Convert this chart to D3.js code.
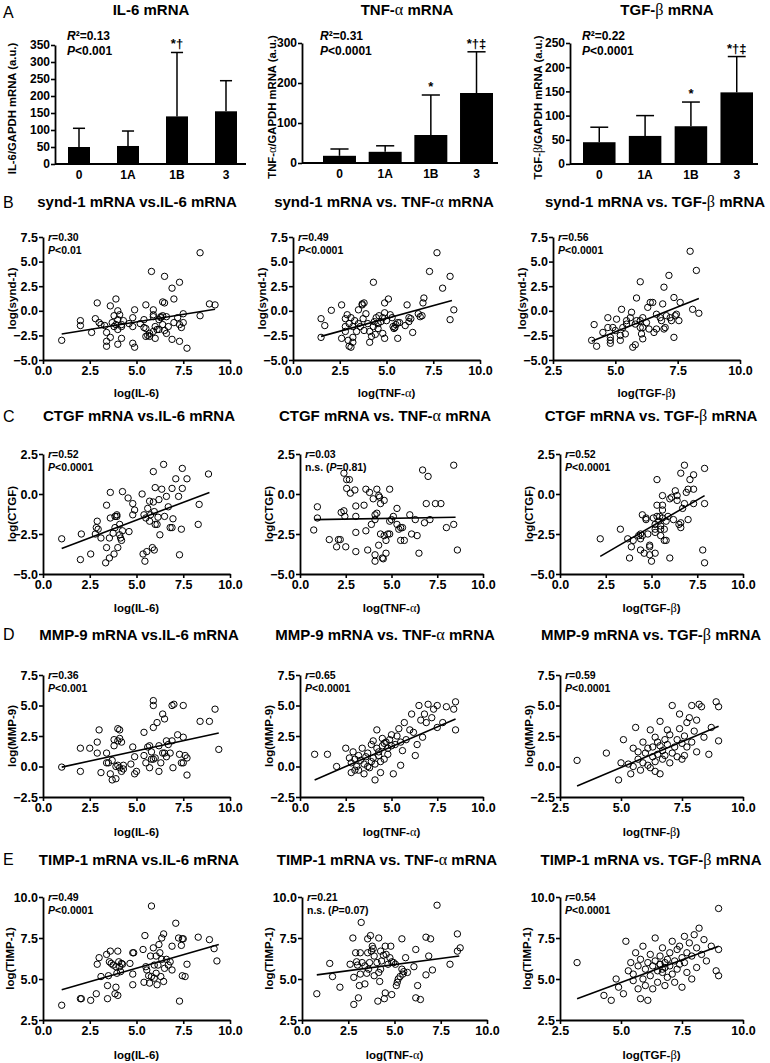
<!DOCTYPE html>
<html><head><meta charset="utf-8">
<script src="https://cdn.jsdelivr.net/npm/d3@7"></script>
<style>body{margin:0;background:#fff}</style>
</head><body>
<svg id="c" width="770" height="1063"></svg>
<script>
// ---------- DATA ----------
const groups = ["0", "1A", "1B", "3"];
const il6Mean = [50, 53, 140, 155];
const il6Err = [105, 97, 328, 245];
const il6Ann = ["", "", "*†", ""];
const tnfMean = [18, 28, 70, 175];
const tnfErr = [35, 43, 170, 278];
const tnfAnn = ["", "", "*", "*†‡"];
const tgfMean = [45, 58, 78, 148];
const tgfErr = [76, 100, 128, 222];
const tgfAnn = ["", "", "*", "*†‡"];
const barR2 = ["0.13", "0.31", "0.22"];
const barP = ["<0.001", "<0.0001", "<0.0001"];
const il6Ticks = [0, 50, 100, 150, 200, 250, 300, 350];
const tnfTicks = [0, 100, 200, 300];
const tgfTicks = [0, 50, 100, 150, 200, 250];

const xTicks0 = [0, 2.5, 5, 7.5, 10];
const xTicks25 = [2.5, 5, 7.5, 10];
const yTicksB = [-5, -2.5, 0, 2.5, 5, 7.5];
const yTicksC = [-5, -2.5, 0, 2.5];
const yTicksD = [-2.5, 0, 2.5, 5, 7.5];
const yTicksE = [2.5, 5, 7.5, 10];

const rVals = [["0.30","0.49","0.56"],["0.52","0.03","0.52"],["0.36","0.65","0.59"],["0.49","0.21","0.54"]];
const pVals = [["<0.01","<0.0001","<0.0001"],["<0.0001","=0.81","<0.0001"],["<0.001","<0.0001","<0.0001"],["<0.0001","=0.07","<0.0001"]];

const synd1_IL6 = [[1.0,-3.0],[2.0,-1.0],[2.0,-1.5],[2.6,-2.2],[2.9,0.8],[2.8,-0.8],[3.0,-1.2],[3.1,-1.4],[3.3,-1.5],[3.4,-2.2],[3.4,-3.1],[3.4,-3.6],[3.6,0.5],[3.6,-2.7],[3.7,-1.2],[3.8,-0.5],[3.9,1.2],[3.9,-1.4],[3.8,-1.6],[4.0,-0.9],[4.0,-3.4],[4.0,-1.9],[4.0,0.0],[4.1,-0.4],[4.2,-1.4],[4.2,-2.8],[4.2,-1.6],[4.3,-1.0],[4.6,-1.3],[4.8,-1.6],[4.8,-0.7],[4.9,0.1],[4.8,-3.3],[4.9,-3.7],[5.2,-1.3],[5.4,-0.9],[5.4,-1.7],[5.5,0.6],[5.5,-2.6],[5.6,-2.5],[5.7,-2.3],[5.8,4.0],[5.9,0.1],[5.9,-0.4],[5.9,-0.6],[5.9,-2.1],[6.0,-1.6],[6.0,-2.8],[6.1,-1.9],[6.2,-0.9],[6.2,-1.9],[6.3,-0.7],[6.3,-0.6],[6.4,-1.4],[6.4,-0.5],[6.5,3.5],[6.4,0.9],[6.5,0.8],[6.5,-2.0],[6.6,-2.3],[6.7,-1.6],[6.6,-0.6],[6.9,2.3],[6.9,-2.9],[7.0,1.2],[7.0,-1.2],[7.2,-0.7],[7.3,2.9],[7.3,-1.4],[7.3,-3.1],[7.5,-0.3],[7.5,-1.2],[7.4,-1.7],[7.7,-3.8],[8.4,-0.5],[8.4,5.9],[8.9,0.7],[9.2,0.6],[5.7,-2.6],[5.5,-1.8]];
const synd1_TNF = [[1.5,-0.8],[1.5,-2.7],[1.7,-1.5],[2.05,0.05],[2.6,0.6],[2.6,-2.8],[2.8,-1.6],[2.8,-0.8],[2.8,-2.1],[2.9,-0.4],[2.95,-3.0],[3.0,-3.6],[3.1,-3.7],[3.0,-1.3],[3.1,-0.7],[3.2,-2.7],[3.2,-3.2],[3.2,-1.6],[3.3,-1.0],[3.4,-2.1],[3.5,-1.3],[3.6,-1.6],[3.5,0.1],[3.7,0.7],[3.7,0.6],[3.8,0.8],[3.75,-0.8],[3.8,-2.0],[3.9,-0.3],[4.0,-1.3],[4.1,-2.1],[4.1,-3.2],[4.2,-2.6],[4.3,-1.6],[4.3,2.9],[4.35,-1.1],[4.4,-2.4],[4.45,-0.7],[4.55,-1.3],[4.55,-1.8],[4.6,-0.5],[4.7,-1.1],[4.8,-2.3],[4.8,-0.7],[4.9,0.8],[4.9,-0.2],[4.9,-2.8],[5.0,-1.0],[5.1,1.2],[5.2,-0.4],[5.3,-0.7],[5.35,-1.6],[5.4,-1.8],[5.45,-1.7],[5.5,-1.4],[5.6,-1.2],[5.6,-2.8],[5.7,-1.2],[6.0,-1.5],[6.1,0.6],[6.2,-1.1],[6.2,-0.7],[6.3,-0.8],[6.4,-2.2],[6.7,-0.3],[6.8,-0.6],[6.9,-0.5],[6.95,0.8],[7.0,1.3],[7.3,4.0],[7.7,5.9],[8.0,2.3],[8.4,3.5],[8.4,-0.9],[8.6,0.1]];
const synd1_TGF = [[4.05,-3.0],[4.15,-1.4],[4.25,-3.6],[4.5,-2.2],[4.7,-0.7],[4.7,-1.7],[4.8,-2.7],[4.8,-3.0],[4.8,-3.3],[4.9,-1.7],[5.0,-2.0],[5.05,-0.85],[5.25,0.15],[5.2,-2.5],[5.2,-3.0],[5.3,-1.7],[5.4,-2.35],[5.45,-1.35],[5.45,-1.0],[5.6,-0.7],[5.65,-0.15],[5.7,-3.7],[5.8,-3.45],[5.8,-1.35],[5.85,-1.0],[5.85,1.3],[6.0,2.95],[6.0,-1.7],[6.0,-1.0],[6.05,-2.35],[6.1,-2.85],[6.1,-0.7],[6.1,-1.7],[6.25,-1.2],[6.3,0.35],[6.35,-1.85],[6.4,0.85],[6.5,0.85],[6.55,-2.2],[6.65,-0.35],[6.65,-1.85],[6.8,-0.7],[6.85,-1.0],[6.9,0.7],[6.95,2.4],[6.95,-1.85],[7.0,-1.7],[7.05,-0.5],[7.15,3.6],[7.2,-0.7],[7.25,-1.0],[7.35,-2.7],[7.35,1.35],[7.4,-0.5],[7.45,-0.35],[7.55,-1.0],[7.6,0.85],[8.0,6.05],[8.1,0.15],[8.25,4.1],[8.35,-0.25]];

const ctgf_IL6 = [[1.0,-2.8],[2.05,-2.5],[2.0,-4.1],[2.55,-3.75],[2.8,-2.5],[2.85,-2.1],[2.9,-1.7],[2.95,-2.2],[3.1,-2.75],[3.35,-4.3],[3.4,-3.35],[3.4,-0.7],[3.55,-4.0],[3.55,-2.75],[3.6,0.1],[3.6,-1.5],[3.75,-2.45],[3.8,-3.75],[3.85,-1.4],[3.85,-2.1],[3.95,-1.3],[3.95,-1.4],[4.0,-3.35],[4.1,-2.55],[4.1,-1.9],[4.15,-2.75],[4.2,-2.9],[4.25,-2.3],[4.25,0.15],[4.55,-0.25],[4.6,-2.35],[4.8,-0.6],[4.8,-1.3],[4.9,-1.0],[5.3,0.0],[5.35,-3.75],[5.4,-1.3],[5.45,-4.2],[5.55,-3.6],[5.5,-1.5],[5.6,-0.9],[5.7,-0.45],[5.75,-1.3],[5.7,-1.7],[5.85,-3.35],[5.9,-0.5],[5.95,-1.1],[6.0,-1.9],[5.9,1.4],[5.95,-3.5],[6.0,0.4],[6.1,-1.9],[6.15,-1.45],[6.25,-2.55],[6.2,-0.35],[6.35,0.3],[6.45,1.85],[6.5,-1.4],[6.6,-0.15],[6.7,-0.8],[6.8,-2.1],[6.9,0.35],[6.9,-2.1],[6.95,-1.55],[7.1,0.95],[7.25,-0.15],[7.3,-3.8],[7.4,-2.2],[7.45,0.35],[7.45,1.6],[7.7,0.95],[8.3,-1.9],[8.35,-0.65],[8.85,1.25]];
const ctgf_TNF = [[0.75,-2.25],[0.95,-0.8],[0.95,-1.5],[1.6,-2.85],[2.0,-3.3],[2.1,-2.85],[2.2,-2.85],[2.25,-1.15],[2.4,-1.05],[2.4,1.3],[2.45,-1.4],[2.5,-3.3],[2.55,0.9],[2.7,0.9],[2.55,0.35],[2.75,0.05],[3.0,0.25],[3.05,-0.75],[3.05,-1.4],[3.05,-2.4],[3.05,-3.6],[3.5,-0.7],[3.6,0.3],[3.6,-2.3],[3.7,-3.5],[3.8,0.1],[3.9,-1.9],[4.0,-0.3],[4.1,-1.3],[4.1,-1.6],[4.1,-3.8],[4.1,-4.2],[4.2,0.3],[4.2,-1.2],[4.3,-0.1],[4.3,-3.2],[4.35,-0.2],[4.4,-0.6],[4.4,-2.5],[4.5,-4.0],[4.55,-4.05],[4.6,-0.4],[4.6,-2.6],[4.7,-2.9],[4.7,-3.7],[4.8,-2.5],[4.9,0.3],[4.9,-1.7],[4.9,-2.5],[5.0,-1.6],[5.1,-1.4],[5.3,-1.9],[5.3,-0.9],[5.4,-2.2],[5.5,-2.1],[5.5,-2.9],[5.6,-2.1],[5.7,-2.9],[6.0,-1.3],[6.1,-2.5],[6.3,-1.6],[6.4,-2.6],[6.5,-3.7],[6.7,1.5],[6.8,-1.8],[6.9,-0.6],[7.0,1.1],[7.1,-1.6],[7.4,-0.6],[7.7,-0.6],[8.0,-2.1],[8.4,1.8],[8.4,-1.9],[8.6,-3.5]];
const ctgf_TGF = [[2.2,-2.8],[3.3,-2.2],[3.7,-2.8],[3.8,-4.0],[3.9,-3.3],[4.0,-2.9],[4.3,-2.6],[4.4,-2.5],[4.4,-2.8],[4.4,-3.5],[4.5,-1.3],[4.6,-3.7],[4.7,-1.5],[4.7,-1.6],[4.8,-2.5],[4.9,-3.2],[4.9,-3.3],[4.9,-3.8],[5.0,-4.2],[5.1,-1.5],[5.2,-1.9],[5.2,-2.2],[5.2,-2.4],[5.2,-3.7],[5.3,0.9],[5.3,-0.7],[5.3,-1.4],[5.4,-1.7],[5.45,-1.4],[5.5,-2.0],[5.5,-2.2],[5.5,-2.6],[5.6,-0.1],[5.6,-0.7],[5.6,-1.0],[5.6,-1.5],[5.7,-2.2],[5.7,-2.9],[5.8,-1.7],[5.9,-1.4],[6.0,-0.3],[6.0,-4.0],[6.1,-0.2],[6.2,-1.6],[6.3,0.2],[6.4,-0.1],[6.4,-0.4],[6.5,-1.9],[6.6,-1.8],[6.6,-2.1],[6.6,1.3],[6.7,-0.9],[6.8,-0.6],[6.8,1.8],[6.9,0.1],[7.0,0.3],[7.0,-1.6],[7.1,0.9],[7.3,1.2],[7.3,0.3],[7.3,-0.6],[7.8,-3.5],[7.9,-4.3],[7.9,-0.6],[7.9,1.6],[4.5,-2.6],[5.8,-2.9]];

const mmp9_IL6 = [[1.0,-0.05],[2.0,1.5],[2.0,-0.4],[2.5,1.5],[2.9,2.0],[2.9,1.1],[3.0,3.0],[3.1,-0.5],[3.4,1.1],[3.4,0.3],[3.5,0.3],[3.6,-0.6],[3.7,0.5],[3.7,-1.1],[3.8,2.2],[3.8,1.7],[3.9,0.0],[3.9,-1.0],[4.0,3.1],[4.0,2.1],[4.0,0.1],[4.1,-0.1],[4.1,2.3],[4.1,3.0],[4.2,-0.4],[4.2,2.0],[4.3,0.1],[4.3,-0.2],[4.7,0.2],[4.8,1.6],[4.9,0.8],[4.9,-0.6],[5.0,-0.4],[5.4,2.8],[5.4,0.9],[5.5,0.3],[5.6,1.6],[5.7,1.7],[5.7,-0.1],[5.8,1.2],[5.8,0.6],[5.9,5.4],[5.9,5.0],[5.9,3.2],[5.9,0.6],[6.0,0.7],[6.1,3.6],[6.2,-0.4],[6.2,1.7],[6.3,0.3],[6.4,1.1],[6.4,4.3],[6.5,3.9],[6.5,1.1],[6.6,0.8],[6.6,2.1],[6.7,1.8],[6.8,1.1],[6.9,5.0],[6.9,2.1],[6.95,-0.1],[7.0,5.1],[7.2,2.6],[7.3,1.0],[7.4,0.3],[7.5,0.3],[7.5,2.4],[7.5,5.0],[7.6,0.9],[7.7,0.7],[7.7,-0.7],[8.4,3.7],[8.9,3.7],[9.2,4.7],[9.4,1.4]];
const mmp9_TNF = [[0.8,1.0],[1.5,1.0],[2.0,0.0],[2.5,1.5],[2.7,0.7],[2.8,0.3],[2.8,-0.5],[2.9,1.2],[3.0,0.6],[3.0,-0.3],[3.1,0.0],[3.2,0.9],[3.3,0.5],[3.4,1.5],[3.5,0.2],[3.5,-0.6],[3.6,0.8],[3.7,1.1],[3.7,0.0],[3.8,-0.1],[3.9,1.8],[3.9,0.4],[4.0,2.1],[4.0,0.7],[4.1,-1.1],[4.1,0.2],[4.2,1.5],[4.2,3.0],[4.3,0.9],[4.3,1.2],[4.4,-0.5],[4.5,1.7],[4.5,2.3],[4.6,1.9],[4.6,0.6],[4.7,2.0],[4.8,1.0],[4.8,1.5],[4.9,2.2],[5.0,1.7],[5.0,2.6],[5.1,-0.6],[5.2,1.8],[5.3,2.5],[5.4,3.1],[5.5,0.1],[5.5,2.0],[5.6,1.3],[5.7,3.6],[5.8,2.2],[6.0,3.0],[6.1,4.3],[6.2,2.8],[6.3,0.9],[6.4,1.8],[6.5,5.0],[6.6,3.8],[6.7,2.4],[6.8,4.3],[6.9,3.6],[7.0,5.1],[7.2,4.0],[7.3,4.7],[7.5,5.0],[7.5,3.2],[7.8,3.6],[8.0,4.9],[8.4,4.7],[8.5,5.3],[8.5,3.0],[4.4,0.4],[3.2,-0.3]];
const mmp9_TGF = [[3.2,0.5],[4.4,1.1],[4.9,-1.1],[5.0,0.3],[5.1,2.2],[5.3,0.2],[5.4,-0.6],[5.5,1.5],[5.5,0.0],[5.6,3.2],[5.7,0.6],[5.7,1.2],[5.8,-0.3],[5.9,2.0],[5.9,0.3],[6.0,1.1],[6.1,0.1],[6.1,1.5],[6.2,3.0],[6.2,-0.1],[6.3,0.8],[6.3,1.6],[6.4,2.4],[6.4,0.4],[6.5,1.0],[6.5,2.0],[6.6,-0.6],[6.6,1.7],[6.6,3.7],[6.7,1.3],[6.7,0.6],[6.8,2.2],[6.8,0.9],[6.9,1.8],[6.9,3.0],[7.0,2.6],[7.0,0.3],[7.1,1.1],[7.1,5.0],[7.2,1.6],[7.3,2.2],[7.3,0.8],[7.4,3.1],[7.4,4.3],[7.5,1.9],[7.6,2.5],[7.6,0.9],[7.7,3.6],[7.7,1.6],[7.8,4.0],[7.9,5.0],[7.9,2.0],[8.0,2.9],[8.1,3.8],[8.1,1.2],[8.2,5.1],[8.3,4.9],[8.4,2.4],[8.6,1.0],[8.7,3.2],[8.9,5.3],[9.0,4.9],[9.0,2.1],[7.5,0.6],[6.4,-0.4]];

const timp1_IL6 = [[1.0,3.4],[2.0,3.8],[2.05,3.8],[2.55,3.7],[2.85,4.1],[2.9,5.9],[3.0,6.3],[3.1,5.15],[3.4,6.5],[3.45,4.6],[3.45,3.8],[3.5,5.2],[3.55,6.05],[3.6,6.7],[3.65,5.95],[3.75,5.85],[3.85,4.1],[3.9,4.5],[3.9,5.75],[3.95,5.35],[4.0,4.0],[4.0,6.7],[4.05,6.05],[4.1,5.75],[4.15,5.45],[4.2,5.95],[4.25,5.9],[4.65,5.95],[4.8,6.6],[4.85,6.6],[4.8,5.3],[4.8,4.65],[5.35,6.8],[5.4,4.8],[5.45,7.65],[5.5,5.75],[5.55,5.55],[5.65,5.2],[5.7,4.75],[5.75,6.4],[5.8,9.45],[5.8,5.15],[5.9,6.9],[5.95,5.85],[5.95,5.05],[6.05,6.4],[6.05,5.35],[6.1,4.65],[6.15,5.85],[6.2,7.1],[6.25,6.6],[6.3,5.15],[6.35,7.5],[6.35,6.2],[6.45,7.75],[6.45,4.85],[6.5,5.65],[6.6,6.2],[6.7,5.85],[6.8,6.05],[6.9,5.55],[6.9,7.0],[7.1,8.4],[7.25,7.5],[7.3,3.65],[7.4,7.05],[7.45,7.45],[7.5,7.45],[7.45,5.2],[7.6,5.15],[7.7,5.9],[8.3,7.55],[8.9,7.4],[9.15,6.85],[9.3,6.1]];
const timp1_TNF = [[0.8,4.1],[1.5,5.95],[1.65,5.15],[2.05,4.5],[2.6,5.9],[2.75,7.5],[2.8,5.1],[2.8,3.45],[2.9,6.6],[2.95,6.05],[3.0,5.85],[3.05,3.85],[3.1,4.6],[3.15,5.3],[3.15,6.6],[3.2,8.45],[3.25,6.0],[3.4,5.8],[3.4,4.7],[3.5,5.35],[3.55,6.6],[3.55,7.45],[3.6,5.6],[3.65,6.0],[3.7,7.65],[3.75,6.7],[3.8,7.0],[3.85,6.85],[3.9,5.2],[3.9,6.4],[4.05,6.0],[4.1,3.65],[4.15,7.5],[4.15,5.4],[4.2,4.85],[4.25,5.6],[4.25,6.7],[4.3,6.1],[4.4,6.45],[4.45,3.8],[4.5,4.15],[4.5,7.0],[4.55,6.5],[4.65,5.9],[4.75,6.3],[4.8,7.0],[4.85,6.05],[4.85,4.05],[4.95,6.0],[5.05,5.9],[5.1,4.6],[5.15,4.8],[5.2,5.0],[5.3,5.15],[5.4,7.45],[5.4,5.6],[5.45,5.3],[5.5,5.45],[5.6,6.3],[5.7,5.4],[6.05,5.75],[6.15,6.8],[6.15,3.85],[6.25,4.6],[6.4,3.75],[6.7,5.25],[6.7,7.55],[6.95,7.45],[6.85,6.4],[7.05,5.55],[7.3,9.5],[8.0,5.9],[8.4,7.75],[8.4,6.7],[8.55,6.9]];
const timp1_TGF = [[3.2,6.0],[4.3,4.0],[4.6,3.7],[4.8,5.0],[4.9,4.5],[5.1,4.1],[5.2,7.3],[5.3,5.5],[5.4,6.0],[5.5,4.9],[5.5,5.3],[5.6,6.6],[5.7,4.4],[5.7,5.8],[5.8,3.8],[5.8,6.2],[5.9,5.0],[5.9,7.0],[6.0,4.6],[6.0,5.6],[6.1,6.0],[6.1,3.7],[6.2,5.2],[6.2,6.5],[6.3,4.4],[6.3,5.8],[6.4,7.5],[6.4,6.1],[6.5,5.5],[6.5,4.8],[6.6,5.9],[6.6,6.4],[6.7,5.4],[6.7,6.9],[6.8,5.7],[6.8,4.6],[6.9,6.2],[6.9,5.1],[7.0,6.6],[7.0,5.8],[7.1,7.3],[7.1,5.3],[7.2,6.1],[7.2,4.8],[7.3,6.8],[7.3,5.6],[7.4,7.0],[7.4,5.9],[7.5,6.3],[7.5,4.5],[7.6,7.6],[7.6,6.0],[7.7,6.6],[7.7,5.4],[7.8,7.2],[7.9,6.4],[7.9,5.0],[8.0,7.7],[8.1,6.9],[8.1,5.7],[8.2,8.1],[8.3,6.5],[8.4,7.4],[8.5,6.1],[8.7,7.0],[8.9,5.5],[9.0,9.3],[9.0,5.2],[9.0,6.8],[6.6,5.9],[6.7,5.6],[6.8,6.0]];

// regression line end points [x0, y0, x1, y1]
const fitLines = [
  [[1.0,-2.35,9.2,0.15],[1.5,-2.6,8.5,1.05],[4.05,-3.1,8.35,1.25]],
  [[1.0,-3.4,8.9,0.1],[0.8,-1.6,8.5,-1.45],[2.2,-3.9,7.9,-0.1]],
  [[1.0,-0.05,9.4,2.75],[0.8,-1.1,8.5,3.9],[3.2,-1.6,9.0,3.3]],
  [[1.0,4.35,9.4,7.1],[0.8,5.25,8.5,6.4],[3.2,3.8,9.0,7.0]]
];

// ---------- DRAWING ----------
const SANS = "'Liberation Sans', Arial, Helvetica, sans-serif";
const SERIF = "'Liberation Serif', 'DejaVu Serif', serif";
const svg = d3.select("#c").style("font-family", SANS);
svg.append("rect").attr("width", 770).attr("height", 1063).attr("fill", "#fff");

function rich(sel, str) {
  str.split(/([αβ])/).forEach(p => {
    if (!p) return;
    const t = sel.append("tspan").text(p);
    if (p === "α" || p === "β") t.attr("font-family", SERIF).attr("font-weight", "normal").attr("font-size", "1.08em");
  });
  return sel;
}
function styleAxis(g, fs) {
  g.selectAll(".domain").attr("stroke", "#000").attr("stroke-width", 1.8);
  g.selectAll(".tick line").attr("stroke", "#000").attr("stroke-width", 1.6);
  g.selectAll(".tick text").attr("fill", "#000").attr("font-family", SANS).attr("font-weight", "bold").attr("font-size", fs);
}
function letter(t, y) {
  svg.append("text").attr("x", 3).attr("y", y).attr("font-size", 16).attr("fill", "#000").text(t);
}

// ---- bar charts ----
function barChart(c, means, errs, anns, ticks, r2, p) {
  const y = d3.scaleLinear().domain([0, c.max]).range([c.y0, c.y1]);
  const x = d3.scaleBand().domain(groups).range([c.b0, c.b1]).paddingInner(c.pi).paddingOuter(0);
  const g = svg.append("g");
  groups.forEach((k, i) => {
    const cx = x(k) + x.bandwidth() / 2;
    const cw = x.bandwidth() * 0.55;
    g.append("line").attr("x1", cx).attr("x2", cx).attr("y1", y(means[i])).attr("y2", y(errs[i])).attr("stroke", "#000").attr("stroke-width", 1.5);
    g.append("line").attr("x1", cx - cw / 2).attr("x2", cx + cw / 2).attr("y1", y(errs[i])).attr("y2", y(errs[i])).attr("stroke", "#000").attr("stroke-width", 1.5);
    g.append("rect").attr("x", x(k)).attr("width", x.bandwidth()).attr("y", y(means[i])).attr("height", y(0) - y(means[i])).attr("fill", "#000");
    if (anns[i]) g.append("text").attr("x", cx).attr("y", y(errs[i]) - 4).attr("text-anchor", "middle").attr("font-weight", "bold").attr("font-size", 13).text(anns[i]);
  });
  const ya = svg.append("g").attr("transform", `translate(${c.ax},0)`).call(d3.axisLeft(y).tickValues(ticks).tickSize(4).tickSizeOuter(0).tickPadding(1));
  styleAxis(ya, 12);
  const xa = svg.append("g").attr("transform", `translate(0,${c.y0})`).call(d3.axisBottom(x).tickSize(0).tickPadding(6));
  xa.select(".domain").attr("d", `M${c.ax},0H${c.xe}`);
  styleAxis(xa, 12);
  rich(svg.append("text").attr("x", c.tx).attr("y", 15).attr("text-anchor", "middle").attr("font-weight", "bold").attr("font-size", 15), c.title);
  rich(svg.append("text").attr("transform", `translate(${c.lx},${(c.y0 + c.y1) / 2 + 4}) rotate(-90)`).attr("text-anchor", "middle").attr("dominant-baseline", "central").attr("font-weight", "bold").attr("font-size", 11.3), c.ylabel);
  const s1 = svg.append("text").attr("x", c.sx).attr("y", 40).attr("font-weight", "bold").attr("font-size", 12);
  s1.append("tspan").attr("font-style", "italic").text("R");
  s1.append("tspan").text("²=" + r2);
  const s2 = svg.append("text").attr("x", c.sx).attr("y", 55).attr("font-weight", "bold").attr("font-size", 12);
  s2.append("tspan").attr("font-style", "italic").text("P");
  s2.append("tspan").text(p);
}
letter("A", 18);
barChart({ax:55, xe:246, b0:68, b1:237, pi:0.551, y0:164, y1:45, max:350, tx:151, lx:12, sx:67, title:"IL-6 mRNA", ylabel:"IL-6/GAPDH mRNA (a.u.)"}, il6Mean, il6Err, il6Ann, il6Ticks, barR2[0], barP[0]);
barChart({ax:302, xe:498, b0:323, b1:493, pi:0.278, y0:163, y1:43, max:300, tx:407, lx:272, sx:320, title:"TNF-α mRNA", ylabel:"TNF-α/GAPDH mRNA (a.u.)"}, tnfMean, tnfErr, tnfAnn, tnfTicks, barR2[1], barP[1]);
barChart({ax:570, xe:758, b0:583, b1:753, pi:0.29, y0:164, y1:43, max:250, tx:667, lx:538, sx:582, title:"TGF-β mRNA", ylabel:"TGF-β/GAPDH mRNA (a.u.)"}, tgfMean, tgfErr, tgfAnn, tgfTicks, barR2[2], barP[2]);

// ---- scatter plots ----
const fmt = d => d3.format(".1f")(d).replace("-", "–");
function scatter(c, data, fit, rv, pv) {
  const x = d3.scaleLinear().domain(c.xd).range([c.L, c.R]);
  const y = d3.scaleLinear().domain(c.yd).range([c.B, c.T]);
  const g = svg.append("g");
  g.selectAll("circle").data(data).join("circle")
    .attr("cx", d => x(d[0])).attr("cy", d => y(d[1])).attr("r", 3.2)
    .attr("fill", "none").attr("stroke", "#000").attr("stroke-width", 1);
  g.append("line").attr("x1", x(fit[0])).attr("y1", y(fit[1])).attr("x2", x(fit[2])).attr("y2", y(fit[3])).attr("stroke", "#000").attr("stroke-width", 1.6);
  const ya = svg.append("g").attr("transform", `translate(${c.L},0)`).call(d3.axisLeft(y).tickValues(c.yt).tickFormat(fmt).tickSize(4).tickSizeOuter(0).tickPadding(1));
  styleAxis(ya, 12.5);
  const xa = svg.append("g").attr("transform", `translate(0,${c.B})`).call(d3.axisBottom(x).tickValues(c.xt).tickFormat(fmt).tickSize(4).tickSizeOuter(0).tickPadding(2));
  styleAxis(xa, 12.5);
  rich(svg.append("text").attr("x", c.tx).attr("y", c.ty).attr("text-anchor", "middle").attr("font-weight", "bold").attr("font-size", 15), c.title);
  rich(svg.append("text").attr("x", (c.L + c.R) / 2).attr("y", c.xly).attr("text-anchor", "middle").attr("font-weight", "bold").attr("font-size", 11.5), c.xlabel);
  rich(svg.append("text").attr("transform", `translate(${c.lx},${(c.T + c.B) / 2}) rotate(-90)`).attr("text-anchor", "middle").attr("dominant-baseline", "central").attr("font-weight", "bold").attr("font-size", 11.5), c.ylabel);
  const t1 = svg.append("text").attr("x", c.L + 5).attr("y", c.T + 4).attr("font-weight", "bold").attr("font-size", 10.5);
  t1.append("tspan").attr("font-style", "italic").text("r");
  t1.append("tspan").text("=" + rv);
  const t2 = svg.append("text").attr("x", c.L + 5).attr("y", c.T + 17).attr("font-weight", "bold").attr("font-size", 10.5);
  if (pv.startsWith("=")) {
    t2.append("tspan").text("n.s. (");
    t2.append("tspan").attr("font-style", "italic").text("P");
    t2.append("tspan").text(pv + ")");
  } else {
    t2.append("tspan").attr("font-style", "italic").text("P");
    t2.append("tspan").text(pv);
  }
}

const rows = [
  {letter:"B", ly:208, ty:207, T:237, B:360, yd:[-5,7.5], yt:yTicksB, xly:397, name:"synd-1", yl:"log(synd-1)", data:[synd1_IL6, synd1_TNF, synd1_TGF], cols:[{L:43,R:230},{L:293,R:480},{L:553,R:740}], off:31, tx:[137,384,655]},
  {letter:"C", ly:422, ty:421, T:454, B:574, yd:[-5,2.5], yt:yTicksC, xly:612, name:"CTGF", yl:"log(CTGF)", data:[ctgf_IL6, ctgf_TNF, ctgf_TGF], cols:[{L:43,R:230},{L:300,R:483},{L:560,R:743}], off:31, tx:[139,385,651]},
  {letter:"D", ly:640, ty:640, T:675, B:797, yd:[-2.5,7.5], yt:yTicksD, xly:836, name:"MMP-9", yl:"log(MMP-9)", data:[mmp9_IL6, mmp9_TNF, mmp9_TGF], cols:[{L:43,R:230},{L:300,R:483},{L:560,R:743}], off:31, tx:[139,385,651]},
  {letter:"E", ly:865, ty:865, T:897, B:1020, yd:[2.5,10], yt:yTicksE, xly:1059, name:"TIMP-1", yl:"log(TIMP-1)", data:[timp1_IL6, timp1_TNF, timp1_TGF], cols:[{L:43,R:230},{L:302,R:487},{L:560,R:743}], off:33, tx:[139,387,651]}
];
const predictors = ["IL-6", "TNF-α", "TGF-β"];
rows.forEach((row, ri) => {
  letter(row.letter, row.ly);
  row.cols.forEach((col, ci) => {
    const tgfStart = (ci === 2 && ri !== 1);
    const xlabel = (ri === 2 && ci === 2) ? "log(TNF-β)" : `log(${predictors[ci]})`;
    const title = `${row.name} mRNA vs.${ci === 0 ? "" : " "}${predictors[ci]} mRNA`;
    scatter({
      L: col.L, R: col.R, T: row.T, B: row.B,
      xd: tgfStart ? [2.5, 10] : [0, 10], xt: tgfStart ? xTicks25 : xTicks0,
      yd: row.yd, yt: row.yt, tx: row.tx[ci], ty: row.ty, title, xlabel, ylabel: row.yl,
      xly: row.xly, lx: Math.max(10, col.L - row.off)
    }, row.data[ci], fitLines[ri][ci], rVals[ri][ci], pVals[ri][ci]);
  });
});
</script>
</body></html>
